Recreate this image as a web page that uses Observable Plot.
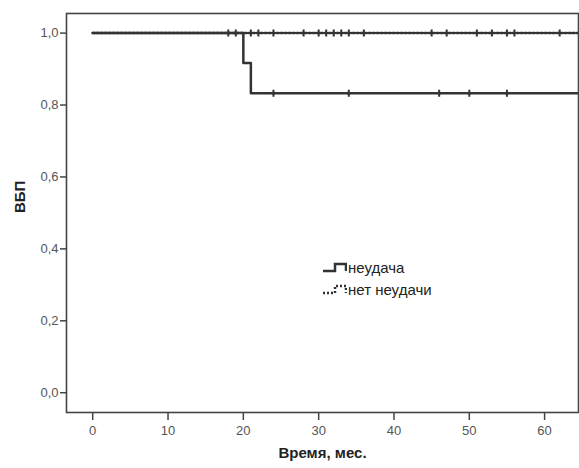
<!DOCTYPE html>
<html><head><meta charset="utf-8">
<script src="https://cdn.jsdelivr.net/npm/d3@7"></script>
<script src="https://cdn.jsdelivr.net/npm/@observablehq/plot@0.6"></script>
<style>
body{margin:0;background:#fff;font-family:"Liberation Sans",Arial,sans-serif;}
#wrap{position:relative;width:579px;height:468px;}
#legend{position:absolute;left:322px;top:257px;font-size:15px;color:#222;line-height:22px;}
#legend div{display:flex;align-items:center;}
#legend svg{margin-right:1px;}
</style></head><body>
<div id="wrap"><div id="chart"></div>
<div id="legend">
<div><svg width="25" height="14"><path d="M1,10H13V3H24V10" fill="none" stroke="#333" stroke-width="2.5"/></svg>неудача</div>
<div><svg width="25" height="14"><path d="M1,10H13V3H24V10" fill="none" stroke="#333" stroke-width="2.5" stroke-dasharray="2,2"/></svg>нет неудачи</div>
</div></div>
<script>
// Группа "неудача": ступенчатая кривая
const failTimes = [0, 20, 21, 64.5];
const failSurv = [1.0, 0.917, 0.833, 0.833];
const failCensor = [18, 19, 24, 34, 46, 50, 55];
// Группа "нет неудачи"
const okTimes = [0, 64.5];
const okSurv = [1.0, 1.0];
const okCensor = [21, 22, 24, 28, 30, 31, 32, 33, 34, 36, 45, 47, 51, 53, 55, 56, 62];
const xTicks = [0, 10, 20, 30, 40, 50, 60];
const yTicks = [0, 0.2, 0.4, 0.6, 0.8, 1.0];

const fail = failTimes.map((t, i) => ({t, s: failSurv[i]}));
const ok = okTimes.map((t, i) => ({t, s: okSurv[i]}));
const failC = failCensor.map(t => ({t, s: t < 20 ? 1.0 : 0.833}));
const okC = okCensor.map(t => ({t, s: 1.0}));

const censorSymbol = {
  draw(ctx, size) {
    ctx.moveTo(0, -3.5); ctx.lineTo(0, 3.5);
    ctx.moveTo(-2, 0); ctx.lineTo(2, 0);
  }
};
const fmt = d => d.toFixed(1).replace(".", ",");

const chart = Plot.plot({
  width: 579, height: 468,
  marginLeft: 66, marginRight: 1, marginTop: 13, marginBottom: 56,
  style: {fontFamily: "Liberation Sans, Arial, sans-serif", fontSize: "13px", color: "#333"},
  x: {domain: [-3.48, 64.5], label: null},
  y: {domain: [-0.055, 1.0545], label: null},
  marks: [
    Plot.frame({stroke: "#444", strokeWidth: 1.6}),
    Plot.axisX({ticks: xTicks, tickSize: 8, tickPadding: 5, stroke: "#444", strokeWidth: 1.5, fill: "#555", fontSize: 13, label: null}),
    Plot.axisY({ticks: yTicks, tickSize: 6, tickPadding: 2, tickFormat: fmt, stroke: "#444", strokeWidth: 1.5, fill: "#555", fontSize: 13, label: null}),
    Plot.line(ok, {x: "t", y: "s", stroke: "#333", strokeWidth: 2.5, strokeDasharray: "2,2", clip: true}),
    Plot.line(fail, {x: "t", y: "s", curve: "step-after", stroke: "#333", strokeWidth: 2.5, clip: true}),
    Plot.dot(okC, {x: "t", y: "s", symbol: censorSymbol, stroke: "#333", strokeWidth: 2, r: 3}),
    Plot.dot(failC, {x: "t", y: "s", symbol: censorSymbol, stroke: "#333", strokeWidth: 2, r: 3}),
    Plot.text(["Время, мес."], {frameAnchor: "bottom", dy: 45, fontWeight: "bold", fontSize: 15, fill: "#222"}),
    Plot.text(["ВБП"], {frameAnchor: "left", dx: -46, rotate: -90, fontWeight: "bold", fontSize: 15, fill: "#222"})
  ]
});
document.getElementById("chart").appendChild(chart);
</script>
</body></html>
